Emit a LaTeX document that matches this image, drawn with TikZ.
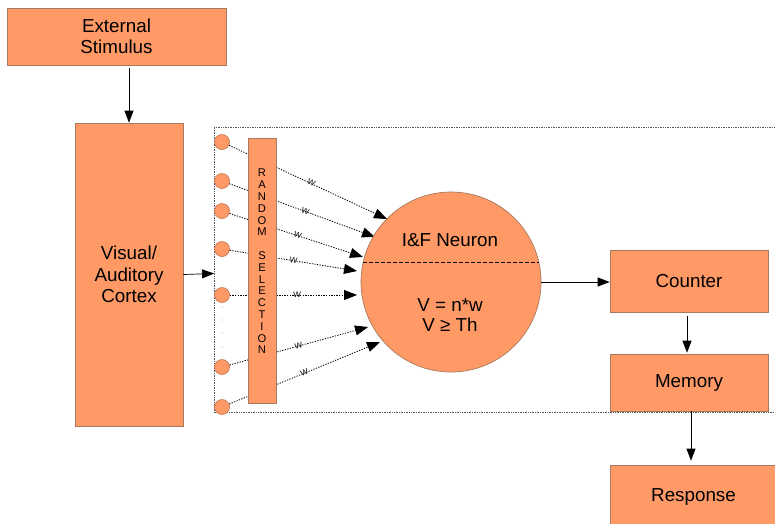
\documentclass[tikz,border=0pt]{standalone}
\usepackage{fontspec}
\setmainfont{Liberation Sans}
\usetikzlibrary{arrows.meta}
\definecolor{ofill}{HTML}{FF9966}
\definecolor{oline}{HTML}{A8795E}
\definecolor{cline}{HTML}{C27550}
\definecolor{framegray}{HTML}{555555}
\begin{document}
\begin{tikzpicture}[x=1pt,y=-1pt,
  box/.style={draw=oline, fill=ofill, line width=0.7pt, inner sep=0pt, font=\fontsize{18.8}{21.5}\selectfont, align=center},
  arr/.style={-{Triangle[length=12pt,width=9pt]}, line width=0.7pt},
  darr/.style={dash pattern=on 1.3pt off 1.3pt, line width=0.8pt, -{Triangle[length=13pt,width=10pt]}},
  inp/.style={circle, draw=cline, fill=ofill, line width=0.6pt, minimum size=15pt, inner sep=0pt},
  wlab/.style={font=\fontsize{10.5}{10.5}\selectfont, text=black!85, sloped, inner sep=0.5pt, above=-3pt},
  gdot/.style={circle, fill=gray!60, minimum size=1.4pt, inner sep=0pt}
]
\clip (0,0) rectangle (775,523);
\fill[white] (0,0) rectangle (775,523);

% frame
\draw[framegray, densely dotted, line width=0.7pt] (776,127.5) -- (214,127.5) -- (214,412.5) -- (776,412.5);

% boxes on the left
\node[box, minimum width=219pt, minimum height=57pt] (ext) at (116.5,36.5) {External\\Stimulus};
\node[box, minimum width=108pt, minimum height=303pt] (cortex) at (129,274.5) {Visual/\\Auditory\\Cortex};
\coordinate (frameL) at (214,273.5);

% input circles
\foreach \n/\y in {1/142,2/181,3/211,4/249,5/295,6/367,7/407}
  \node[inp] (c\n) at (222,\y) {};
\foreach \n/\y in {1/307,2/320,3/333,4/347}
  \node[gdot] (d\n) at (222,\y) {};

% tips on neuron
\coordinate (t1) at (387,219);
\coordinate (t2) at (375,237);
\coordinate (t3) at (363,257);
\coordinate (t4) at (357,271);
\coordinate (t5) at (357,295);
\coordinate (t6) at (368,327);
\coordinate (t7) at (380,342);

\draw[darr] (c1) -- node[wlab, pos=0.52] (w1) {w} (t1);
\draw[darr] (c2) -- node[wlab, pos=0.52] (w2) {w} (t2);
\draw[darr] (c3) -- node[wlab, pos=0.51] (w3) {w} (t3);
\draw[darr] (c4) -- node[wlab, pos=0.50] (w4) {w} (t4);
\draw[darr] (c5) -- node[wlab, pos=0.53] (w5) {w} (t5);
\draw[darr] (c6) -- node[wlab, pos=0.50] (w6) {w} (t6);
\draw[darr] (c7) -- node[wlab, pos=0.50] (w7) {w} (t7);

% random selection
\node[box, minimum width=28pt, minimum height=265pt] (rand) at (262,270.5) {};
\node[font=\fontsize{11.2}{11.8}\selectfont, align=center, inner sep=0pt] (randtxt) at (262,261.5)
  {R\\A\\N\\D\\O\\M\\\mbox{}\\S\\E\\L\\E\\C\\T\\I\\O\\N};

% neuron
\node[circle, draw=oline, fill=ofill, line width=0.7pt, minimum size=180pt, inner sep=0pt] (neuron) at (451,282) {};
\draw[dash pattern=on 4pt off 2pt, line width=0.9pt] (363.3,262) -- (538.7,262);
\node[font=\fontsize{18.8}{21.5}\selectfont, inner sep=0pt] (nlab) at (450,240) {I\&F Neuron};
\node[font=\fontsize{18.8}{20.5}\selectfont, align=center, inner sep=0pt] (nform) at (450,315) {V = n*w\\V ≥ Th};

% right boxes
\node[box, minimum width=158pt, minimum height=62pt] (counter) at (689,281) {Counter};
\node[box, minimum width=158pt, minimum height=57pt] (memory) at (689,382.5) {Memory};
\node[box, minimum width=167pt, minimum height=64pt] (response) at (693.5,497) {Response};

% connectors
\draw[arr] (ext.south -| cortex.north) ++(0,3) -- (cortex.north);
\draw[arr] (cortex.east) -- (frameL);
\draw[arr] (neuron.east) -- (neuron.east -| counter.west);
\draw[arr, shorten <=4pt, shorten >=1pt] ([xshift=-2pt]counter.south) -- ([xshift=-2pt]memory.north);
\draw[arr, shorten >=4pt] ([xshift=2pt]memory.south) -- ([xshift=2pt]memory.south |- response.north);
\end{tikzpicture}
\end{document}
